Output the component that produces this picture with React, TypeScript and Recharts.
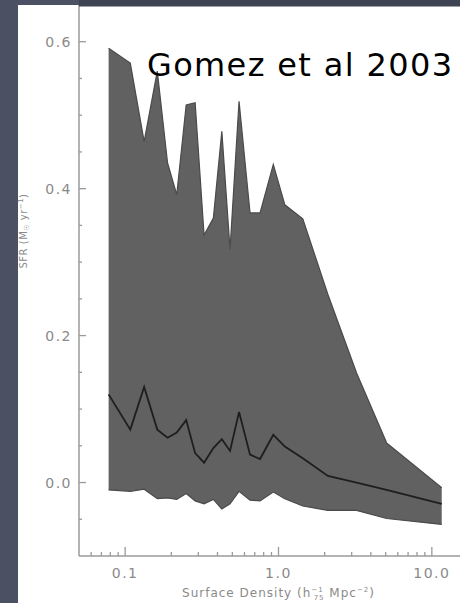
import { Area, ComposedChart, Line, XAxis, YAxis } from 'recharts';

const density = [0.078, 0.108, 0.133, 0.162, 0.189, 0.217, 0.25, 0.286, 0.327, 0.376, 0.427, 0.483, 0.553, 0.652, 0.758, 0.925, 1.1, 1.44, 2.1, 3.23, 5.07, 11.6];
const sfrUpper = [0.591, 0.571, 0.464, 0.56, 0.435, 0.392, 0.514, 0.517, 0.337, 0.36, 0.478, 0.317, 0.519, 0.367, 0.367, 0.433, 0.378, 0.359, 0.256, 0.149, 0.054, -0.007];
const sfrMedian = [0.12, 0.072, 0.13, 0.072, 0.061, 0.068, 0.085, 0.04, 0.027, 0.047, 0.059, 0.043, 0.096, 0.038, 0.032, 0.065, 0.049, 0.033, 0.009, 0.0, -0.01, -0.029];
const sfrLower = [-0.01, -0.012, -0.009, -0.022, -0.021, -0.023, -0.015, -0.025, -0.029, -0.023, -0.036, -0.029, -0.012, -0.024, -0.025, -0.013, -0.022, -0.032, -0.038, -0.038, -0.049, -0.057];

const xMajorTicks = [0.1, 1, 10];
const xTicks = [0.06, 0.07, 0.08, 0.09, 0.1, 0.2, 0.3, 0.4, 0.5, 0.6, 0.7, 0.8, 0.9, 1, 2, 3, 4, 5, 6, 7, 8, 9, 10];
const yMajorTicks = [0, 0.2, 0.4, 0.6];
const yTicks = [-0.05, 0, 0.05, 0.1, 0.15, 0.2, 0.25, 0.3, 0.35, 0.4, 0.45, 0.5, 0.55, 0.6];

const data = density.map((d, i) => ({
  density: d,
  band: [sfrLower[i], sfrUpper[i]],
  median: sfrMedian[i],
}));

const AXIS = '#9a9a9a';
const LABEL = '#8a8a8a';
const FONT = '"DejaVu Sans", Verdana, sans-serif';

const isMajor = (v: number, majors: number[]) => majors.some((m) => Math.abs(m - v) < 1e-9);

const BottomTick = ({ x, y, payload }: any) => {
  const major = isMajor(payload.value, xMajorTicks);
  return (
    <g>
      <line x1={x} x2={x} y1={y} y2={y - (major ? 9 : 4)} stroke={AXIS} strokeWidth={1.3} />
      {major && (
        <text x={x} y={y + 22} textAnchor="middle" fill={LABEL} fontSize={14} letterSpacing={1.5} fontFamily={FONT}>
          {payload.value === 0.1 ? '0.1' : payload.value.toFixed(1)}
        </text>
      )}
    </g>
  );
};

const TopTick = ({ x, y, payload }: any) => {
  const major = isMajor(payload.value, xMajorTicks);
  return <line x1={x} x2={x} y1={y} y2={y + (major ? 9 : 4)} stroke={AXIS} strokeWidth={1.3} />;
};

const LeftTick = ({ x, y, payload }: any) => {
  const major = isMajor(payload.value, yMajorTicks);
  return (
    <g>
      <line x1={x} x2={x + (major ? 7 : 3)} y1={y} y2={y} stroke={AXIS} strokeWidth={1.3} />
      {major && (
        <text x={x - 7} y={y + 5} textAnchor="end" fill={LABEL} fontSize={14} letterSpacing={1.5} fontFamily={FONT}>
          {payload.value.toFixed(1)}
        </text>
      )}
    </g>
  );
};

const XTitle = ({ viewBox }: any) => (
  <text x={viewBox.x + viewBox.width / 2} y={viewBox.y + 41} textAnchor="middle" fill={LABEL} fontSize={12} letterSpacing={1} fontFamily={FONT}>
    Surface Density (h
    <tspan fontSize={7} dy={-5}>−1</tspan>
    <tspan fontSize={7} dx={-10} dy={8}>75</tspan>
    <tspan dy={-3}> Mpc</tspan>
    <tspan fontSize={7} dy={-5}>−2</tspan>
    <tspan dy={5}>)</tspan>
  </text>
);

const YTitle = () => (
  <text x={27} y={231} transform="rotate(-90 27 231)" textAnchor="middle" fill={LABEL} fontSize={10} letterSpacing={0.5} fontFamily={FONT}>
    SFR (M
    <tspan fontSize={7} dy={2}>☉</tspan>
    <tspan dy={-2}> yr</tspan>
    <tspan fontSize={7} dy={-4}>−1</tspan>
    <tspan dy={4}>)</tspan>
  </text>
);

export default function App() {
  return (
    <div style={{ position: 'absolute', left: 0, top: 0, width: 460, height: 603, overflow: 'hidden', background: '#4b5163' }}>
      <div style={{ position: 'absolute', left: 18, top: 5, right: 0, bottom: 0, background: '#ffffff' }} />
      <div style={{ position: 'absolute', left: 0, top: 0 }}>
        <ComposedChart width={480} height={603} data={data} margin={{ top: 5, right: 2, bottom: 0, left: 0 }}>
          <XAxis
            dataKey="density"
            type="number"
            scale="log"
            domain={[0.05, 20]}
            allowDataOverflow
            ticks={xTicks}
            interval={0}
            tick={BottomTick}
            tickSize={0}
            tickMargin={0}
            tickLine={false}
            axisLine={{ stroke: AXIS, strokeWidth: 1.5 }}
            height={47}
            label={<XTitle />}
          />
          <XAxis
            xAxisId="top"
            orientation="top"
            type="number"
            scale="log"
            domain={[0.05, 20]}
            allowDataOverflow
            ticks={xTicks}
            interval={0}
            tick={TopTick}
            tickSize={0}
            tickMargin={0}
            tickLine={false}
            axisLine={{ stroke: AXIS, strokeWidth: 1.5 }}
            height={0}
          />
          <YAxis
            type="number"
            domain={[-0.1, 0.65]}
            allowDataOverflow
            ticks={yTicks}
            interval={0}
            tick={LeftTick}
            tickSize={0}
            tickMargin={0}
            tickLine={false}
            axisLine={{ stroke: AXIS, strokeWidth: 1.5 }}
            width={79}
            label={<YTitle />}
          />
          <Area
            dataKey="band"
            type="linear"
            fill="#616161"
            fillOpacity={1}
            stroke="#4a4a4a"
            strokeWidth={1.2}
            isAnimationActive={false}
          />
          <Line
            dataKey="median"
            type="linear"
            stroke="#1e1e1e"
            strokeWidth={1.8}
            dot={false}
            isAnimationActive={false}
          />
        </ComposedChart>
      </div>
      <svg width={460} height={603} style={{ position: 'absolute', left: 0, top: 0, pointerEvents: 'none' }}>
        <rect x={79} y={0} width={381} height={6.5} fill="#3f4454" />
        <text x={147} y={76} fontSize={32} textLength={305} lengthAdjust="spacing" fill="#000" fontFamily={FONT}>
          Gomez et al 2003
        </text>
      </svg>
    </div>
  );
}
